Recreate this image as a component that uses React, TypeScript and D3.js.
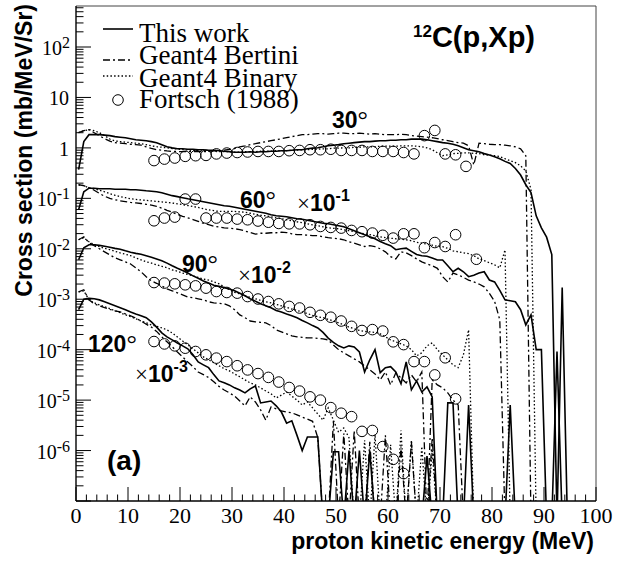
import React from 'react';
import * as d3 from 'd3';

// Bin centres (MeV) of the simulated histograms (1 MeV bins)
const binCenters = [
  0.5, 1.5, 2.5, 3.5, 4.5, 5.5, 6.5, 7.5, 8.5, 9.5, 10.5, 11.5, 12.5, 13.5, 14.5, 15.5, 16.5, 17.5, 18.5, 19.5,
  20.5, 21.5, 22.5, 23.5, 24.5, 25.5, 26.5, 27.5, 28.5, 29.5, 30.5, 31.5, 32.5, 33.5, 34.5, 35.5, 36.5, 37.5, 38.5, 39.5,
  40.5, 41.5, 42.5, 43.5, 44.5, 45.5, 46.5, 47.5, 48.5, 49.5, 50.5, 51.5, 52.5, 53.5, 54.5, 55.5, 56.5, 57.5, 58.5, 59.5,
  60.5, 61.5, 62.5, 63.5, 64.5, 65.5, 66.5, 67.5, 68.5, 69.5, 70.5, 71.5, 72.5, 73.5, 74.5, 75.5, 76.5, 77.5, 78.5, 79.5,
  80.5, 81.5, 82.5, 83.5, 84.5, 85.5, 86.5, 87.5, 88.5, 89.5, 90.5, 91.5, 92.5, 93.5, 94.5, 95.5, 96.5, 97.5, 98.5, 99.5,
];

// ---- 30 degrees (x1) ----
const thisWork30 = [
  0.37, 1.33, 1.83, 1.83, 1.83, 1.79, 1.75, 1.67, 1.63, 1.59, 1.52, 1.45, 1.42, 1.39, 1.33, 1.27, 1.16, 1.05, 1.0, 0.96,
  0.96, 0.94, 0.94, 0.92, 0.92, 0.9, 0.9, 0.88, 0.86, 0.84, 0.82, 0.82, 0.82, 0.84, 0.82, 0.84, 0.84, 0.86, 0.86, 0.88,
  0.88, 0.9, 0.92, 0.92, 0.96, 0.99, 1.01, 1.05, 1.1, 1.13, 1.16, 1.21, 1.24, 1.27, 1.3, 1.33, 1.33, 1.36, 1.39, 1.39,
  1.42, 1.42, 1.45, 1.45, 1.49, 1.49, 1.49, 1.45, 1.39, 1.33, 1.27, 1.24, 1.18, 1.1, 1.01, 0.92, 0.88, 0.84, 0.77, 0.72,
  0.67, 0.61, 0.54, 0.49, 0.39, 0.29, 0.186, 0.13, 0.045, 0.026, 0.017, 0.0077, 0, 0.0017, 0,
];
const bertini30 = [
  2.0, 2.2, 2.3, 2.0, 1.75, 1.52, 1.36, 1.27, 1.24, 1.21, 1.18, 1.16, 1.13, 1.05, 0.98, 0.92, 0.9, 0.87, 0.85, 0.85,
  0.84, 0.84, 0.84, 0.84, 0.84, 0.85, 0.87, 0.88, 0.9, 0.93, 0.97, 1.05, 1.1, 1.16, 1.21, 1.27, 1.33, 1.39, 1.45, 1.52,
  1.59, 1.67, 1.75, 1.83, 1.83, 1.87, 1.91, 1.91, 1.87, 1.91, 1.96, 1.96, 1.91, 1.91, 1.96, 1.91, 1.87, 1.91, 1.87, 1.83,
  1.83, 1.83, 1.87, 1.83, 1.75, 1.71, 1.67, 1.63, 1.59, 1.52, 1.45, 1.39, 1.33, 1.27, 1.24, 1.1, 0.46, 1.24, 1.21, 1.18,
  1.16, 1.16, 1.13, 1.1, 1.05, 0.96, 0.7, 0,
];
const binary30 = [
  2.0, 2.2, 2.3, 2.2, 2.0, 1.75, 1.5, 1.38, 1.33, 1.3, 1.27, 1.24, 1.21, 1.16, 1.1, 1.06, 1.03, 1.0, 0.97, 0.95,
  0.93, 0.91, 0.89, 0.88, 0.87, 0.86, 0.86, 0.84, 0.84, 0.84, 0.82, 0.82, 0.84, 0.84, 0.84, 0.86, 0.86, 0.86, 0.88, 0.88,
  0.88, 0.9, 0.9, 0.92, 0.92, 0.94, 0.94, 0.96, 0.96, 0.99, 0.99, 1.0, 1.0, 1.03, 1.03, 1.05, 1.05, 1.05, 1.08, 1.08,
  1.08, 1.08, 1.1, 1.1, 1.1, 1.08, 1.05, 1.0, 0.92, 0.8, 0.7, 0.73, 0.77, 0.78, 0.8, 0.8, 0.78, 0.77, 0.73, 0.72,
  0.7, 0.67, 0.61, 0.56, 0.51, 0.44, 0.35, 0.15, 0,
];
const fortschE30 = [15, 17, 19, 21, 23, 25, 27, 29, 31, 33, 35, 37, 39, 41, 43, 45, 47, 49, 51, 53, 55, 57, 59, 61, 63, 65, 67, 69, 71, 73, 75];
const fortsch30 = [
  0.56, 0.6, 0.63, 0.68, 0.7, 0.71, 0.76, 0.79, 0.81, 0.83, 0.85, 0.85, 0.85, 0.88, 0.89, 0.92, 0.92, 0.94, 0.89, 0.89,
  0.89, 0.85, 0.85, 0.85, 0.81, 0.76, 1.75, 2.22, 0.76, 0.73, 0.43,
];

// ---- 60 degrees (x1e-1) ----
const thisWork60 = [
  0.0594, 0.135, 0.159, 0.159, 0.155, 0.155, 0.155, 0.151, 0.151, 0.151, 0.148, 0.148, 0.145, 0.141, 0.138, 0.135, 0.129, 0.121, 0.113, 0.108,
  0.103, 0.098, 0.094, 0.0896, 0.0856, 0.0818, 0.0781, 0.0746, 0.0713, 0.0697, 0.0666, 0.0636, 0.0608, 0.0581, 0.0555, 0.053, 0.0506, 0.0473, 0.0451, 0.0441,
  0.0431, 0.0412, 0.0394, 0.0385, 0.0368, 0.0351, 0.0336, 0.0321, 0.0313, 0.0299, 0.0286, 0.0273, 0.0249, 0.0228, 0.0208, 0.019, 0.0173, 0.0158, 0.014, 0.0126,
  0.0115, 0.0096, 0.01, 0.0103, 0.0089, 0.0077, 0.0073, 0.0071, 0.0066, 0.006, 0.006, 0.0046, 0.0035, 0.0041, 0.0035, 0.0028, 0.003, 0.0033, 0.0035, 0.0024,
  0.0022, 0.0015, 0.00097, 0.00093, 0.00089, 0.00062, 0.00031, 0.00049, 0.0001, 0.0001, 0, 0, 0.000092, 0,
];
const bertini60 = [
  0.186, 0.178, 0.162, 0.145, 0.125, 0.11, 0.1, 0.094, 0.089, 0.086, 0.083, 0.081, 0.079, 0.076, 0.073, 0.069, 0.064, 0.058, 0.053, 0.048,
  0.044, 0.041, 0.038, 0.035, 0.032, 0.03, 0.028, 0.027, 0.026, 0.0255, 0.025, 0.024, 0.0225, 0.021, 0.0195, 0.0203, 0.0203, 0.0208, 0.0208, 0.0213,
  0.021, 0.0198, 0.019, 0.019, 0.0186, 0.0182, 0.0182, 0.0173, 0.0166, 0.0162, 0.0158, 0.0151, 0.0138, 0.0129, 0.012, 0.0111, 0.0115, 0.011, 0.01, 0.0087,
  0.007, 0.0063, 0.0087, 0.0083, 0.0073, 0.0063, 0.0055, 0.005, 0.0046, 0.0041, 0.0028, 0.0022, 0.0033, 0.00305, 0.0027, 0.0024, 0.0022, 0.002, 0.00176, 0.0013,
  0.00091, 0.00039, 0,
];
const binary60 = [
  0.186, 0.178, 0.162, 0.155, 0.145, 0.135, 0.124, 0.115, 0.108, 0.103, 0.098, 0.095, 0.093, 0.091, 0.089, 0.087, 0.085, 0.083, 0.081, 0.078,
  0.075, 0.072, 0.069, 0.066, 0.062, 0.059, 0.057, 0.055, 0.055, 0.055, 0.055, 0.054, 0.053, 0.0506, 0.0484, 0.0462, 0.0451, 0.0431, 0.0412, 0.0394,
  0.0376, 0.036, 0.0343, 0.0328, 0.0313, 0.0299, 0.0286, 0.0273, 0.026, 0.0255, 0.0249, 0.0238, 0.0228, 0.0218, 0.0208, 0.0198, 0.019, 0.0182, 0.0173, 0.0166,
  0.0162, 0.0158, 0.0155, 0.0151, 0.0144, 0.0135, 0.0129, 0.0123, 0.0118, 0.0112, 0.011, 0.0102, 0.0091, 0.0087, 0.0083, 0.008, 0.0073, 0.0063, 0.0058, 0.0053,
  0.0048, 0.0042, 0.0095, 0,
];
const fortschE60 = [15, 17, 19, 21, 23, 25, 27, 29, 31, 33, 35, 37, 39, 41, 43, 45, 47, 49, 51, 53, 55, 57, 59, 61, 63, 65, 67, 69, 71, 73, 77];
const fortsch60 = [
  0.0359, 0.0407, 0.0425, 0.0968, 0.0968, 0.0407, 0.0407, 0.0407, 0.0388, 0.0376, 0.0355, 0.0336, 0.0318, 0.0312, 0.0312, 0.0299, 0.0277, 0.0265, 0.0257, 0.0231,
  0.0218, 0.0205, 0.0185, 0.0163, 0.0198, 0.0198, 0.0105, 0.0133, 0.0111, 0.019, 0.0062,
];

// ---- 90 degrees (x1e-2) ----
const thisWork90 = [
  0.00605, 0.0105, 0.012, 0.012, 0.0117, 0.0112, 0.0107, 0.0102, 0.0098, 0.0091, 0.0085, 0.0081, 0.0078, 0.0073, 0.0068, 0.0063, 0.0058, 0.0052, 0.0046, 0.0041,
  0.0037, 0.0033, 0.0029, 0.0026, 0.0023, 0.0021, 0.0019, 0.0018, 0.0017, 0.0016, 0.00147, 0.00131, 0.00117, 0.00102, 0.00091, 0.00081, 0.00074, 0.00068, 0.0006, 0.00056,
  0.00051, 0.00047, 0.00043, 0.00038, 0.00034, 0.0003, 0.00027, 0.00022, 0.00017, 0.00014, 0.000119, 0.000108, 0.000119, 0.000113, 0.00009, 0.000036, 0.000063, 0.0001, 0.000035, 0.000044,
  0.000046, 0.000036, 0.000021, 0.000057, 0.000016, 0.000024, 0.0000145, 0.0000183, 0.0000116, 0, 0, 0.0000088, 0.0000088, 0, 0, 0.000008, 0, 0, 0, 0,
  0, 0, 0, 0.000008, 0,
];
const bertini90 = [
  0.0151, 0.0173, 0.0132, 0.0115, 0.01, 0.0087, 0.0076, 0.0066, 0.00605, 0.0055, 0.005, 0.0042, 0.0035, 0.0028, 0.0023, 0.00207, 0.00184, 0.0016, 0.00147, 0.00134,
  0.00122, 0.00111, 0.00107, 0.00102, 0.00097, 0.00089, 0.00085, 0.00083, 0.00081, 0.00074, 0.00062, 0.00049, 0.00043, 0.00037, 0.000356, 0.000348, 0.00034, 0.0003, 0.000247, 0.000225,
  0.000206, 0.000188, 0.00018, 0.000175, 0.000171, 0.000171, 0.000167, 0.000164, 0.000156, 0.000124, 0.0001, 0.0000864, 0.0000753, 0.0000657, 0.0000573, 0.0000477, 0.0000397, 0.0000331, 0.0000252, 0.0000363,
  0.00002, 0.0000347, 0.0000276, 0.0000219, 0.0000316, 0.000023, 0.0000363, 0, 0.0000252, 0.00002, 0.0000175, 0.0000139, 0.00001, 0.000008, 0,
];
const binary90 = [
  0.0151, 0.0165, 0.0138, 0.012, 0.011, 0.0102, 0.0096, 0.0089, 0.0083, 0.0078, 0.0073, 0.0066, 0.00605, 0.0055, 0.0052, 0.0048, 0.0045, 0.0042, 0.0038, 0.0036,
  0.0033, 0.0031, 0.0029, 0.0027, 0.0025, 0.0024, 0.0022, 0.00202, 0.00176, 0.00154, 0.00137, 0.00128, 0.00117, 0.00109, 0.00102, 0.00095, 0.00089, 0.00085, 0.00079, 0.00074,
  0.00069, 0.00064, 0.0006, 0.00056, 0.00052, 0.00048, 0.00045, 0.00043, 0.0004, 0.00037, 0.00034, 0.00031, 0.00028, 0.00026, 0.00024, 0.00023, 0.000225, 0.00022, 0.000206, 0.00018,
  0.000156, 0.000143, 0.00013, 0.000119, 0.0001, 0.0000753, 0.0000864, 0.000119, 0.000136, 0.0001, 0.000079, 0.000063, 0.00005, 0.000044, 0.000079, 0.000247, 0,
];
const fortschE90 = [15, 17, 19, 21, 23, 25, 27, 29, 31, 33, 35, 37, 39, 41, 43, 45, 47, 49, 51, 53, 55, 57, 59, 61, 63, 65, 67, 69, 71, 73];
const fortsch90 = [
  0.00214, 0.00209, 0.00202, 0.00193, 0.00184, 0.00166, 0.00142, 0.00136, 0.00132, 0.00113, 0.00101, 0.0009, 0.00081, 0.00072, 0.00067, 0.00055, 0.00048, 0.00044, 0.00037, 0.00029,
  0.00024, 0.00025, 0.000234, 0.000143, 0.000126, 0.000058, 0.000058, 0.0000316, 0.000069, 0.0000106,
];

// ---- 120 degrees (x1e-3) ----
const thisWork120 = [
  0.00062, 0.001, 0.00104, 0.00102, 0.00097, 0.00089, 0.00081, 0.00074, 0.00068, 0.00062, 0.00056, 0.00051, 0.00047, 0.00043, 0.000356, 0.00028, 0.000215, 0.000179, 0.000156, 0.000136,
  0.000119, 0.000104, 0.000079, 0.000057, 0.00005, 0.000044, 0.000032, 0.000024, 0.000022, 0.00002, 0.0000175, 0.0000159, 0.0000139, 0.0000167, 0.0000191, 0.0000088, 0.0000092, 0.0000096, 0.0000077, 0.0000058,
  0.0000035, 0.0000039, 0.000002, 0.000001, 0.00000186, 0.00000186, 0.00000186, 0, 0, 0.00000095, 0.00000095, 0, 0.000001, 0, 0.000001, 0, 0.000001, 0, 0, 0,
  0, 0, 0, 0, 0, 0, 0, 0.00000078, 0,
];
const bertini120 = [
  0.0014, 0.00154, 0.00097, 0.00081, 0.00074, 0.00068, 0.00063, 0.00059, 0.00056, 0.00051, 0.00047, 0.00042, 0.00037, 0.00032, 0.00028, 0.00023, 0.000179, 0.000143, 0.000114, 0.00009,
  0.000072, 0.000057, 0.000046, 0.000036, 0.000032, 0.000028, 0.000023, 0.0000187, 0.0000159, 0.0000139, 0.000012, 0.0000096, 0.0000077, 0.0000116, 0.0000092, 0.0000064, 0.000004, 0.0000073, 0.0000067, 0.0000061,
  0.0000058, 0.0000056, 0.0000051, 0.0000046, 0.0000042, 0.0000038, 0.0000018, 0, 0, 0.0000039, 0, 0.0000022, 0, 0.0000025, 0, 0, 0.0000015, 0, 0, 0.000002,
  0, 0, 0.0000012, 0, 0.0000015, 0, 0, 0, 0.0000018, 0,
];
const binary120 = [
  0.0014, 0.00147, 0.00097, 0.00085, 0.00077, 0.00071, 0.00065, 0.00059, 0.00054, 0.00049, 0.00045, 0.00041, 0.00037, 0.00034, 0.00031, 0.00029, 0.00027, 0.000247, 0.000215, 0.000179,
  0.000149, 0.000125, 0.000104, 0.0000864, 0.000072, 0.000063, 0.000055, 0.000048, 0.000042, 0.000038, 0.000033, 0.000029, 0.0000252, 0.0000219, 0.00002, 0.0000175, 0.0000152, 0.0000133, 0.000011, 0.0000126,
  0.0000145, 0.000012, 0.00001, 0.000008, 0.0000092, 0.000007, 0.0000053, 0.000004, 0.000007, 0.000004, 0.0000023, 0.0000028, 0.0000018, 0, 0, 0.0000016, 0, 0.0000021, 0, 0,
  0.0000013, 0, 0.0000025, 0, 0.0000016, 0, 0.0000012, 0, 0.000001, 0,
];
const fortschE120 = [15, 17, 19, 21, 23, 25, 27, 29, 31, 33, 35, 37, 39, 41, 43, 45, 47, 49, 51, 53, 55, 57, 59, 61, 63];
const fortsch120 = [
  0.000145, 0.00013, 0.000119, 0.000107, 0.000092, 0.000079, 0.000068, 0.000058, 0.000048, 0.0000397, 0.0000336, 0.0000282, 0.0000228, 0.0000178, 0.0000151, 0.0000116, 0.00001, 0.0000071, 0.0000055, 0.0000047,
  0.0000024, 0.0000025, 0.0000012, 0.00000067, 0.00000035,
];

const xTickValues = [0, 10, 20, 30, 40, 50, 60, 70, 80, 90, 100];
const yLabelExponents = [2, 1, 0, -1, -2, -3, -4, -5, -6];
const legendLabels = ['This work', 'Geant4 Bertini', 'Geant4 Binary', 'Fortsch (1988)'];

const W = 627;
const H = 567;
const L = 76, R = 596, T = 6, B = 501;
const SERIF = '"Liberation Serif", "Times New Roman", serif';
const SANS = '"Liberation Sans", Arial, Helvetica, sans-serif';
const BERTINI_DASH = '7,3,2,3';
const BINARY_DASH = '1.5,2.2';

export default function App() {
  const x = d3.scaleLinear().domain([0, 100]).range([L, R]);
  const y = d3.scaleLog().domain([1e-7, 650]).range([B, T]);
  const floorVal = 4e-8;

  const line = d3
    .line<number>()
    .x((_, i) => x(binCenters[i]))
    .y((d) => y(d > 0 ? d : floorVal));

  const simSeries = [
    { data: thisWork30, dash: undefined, w: 1.6 },
    { data: bertini30, dash: BERTINI_DASH, w: 1.3 },
    { data: binary30, dash: BINARY_DASH, w: 1.3 },
    { data: thisWork60, dash: undefined, w: 1.6 },
    { data: bertini60, dash: BERTINI_DASH, w: 1.3 },
    { data: binary60, dash: BINARY_DASH, w: 1.3 },
    { data: thisWork90, dash: undefined, w: 1.6 },
    { data: bertini90, dash: BERTINI_DASH, w: 1.3 },
    { data: binary90, dash: BINARY_DASH, w: 1.3 },
    { data: thisWork120, dash: undefined, w: 1.6 },
    { data: bertini120, dash: BERTINI_DASH, w: 1.3 },
    { data: binary120, dash: BINARY_DASH, w: 1.3 },
  ];
  const expSets = [
    { e: fortschE30, v: fortsch30 },
    { e: fortschE60, v: fortsch60 },
    { e: fortschE90, v: fortsch90 },
    { e: fortschE120, v: fortsch120 },
  ];

  // ticks
  const xMinor = d3.range(0, 101, 2).filter((v) => v % 10 !== 0);
  const yMajor: number[] = [];
  const yMinor: number[] = [];
  for (let k = -7; k <= 2; k++) {
    yMajor.push(Math.pow(10, k));
    for (let m = 2; m <= 9; m++) {
      const v = m * Math.pow(10, k);
      if (v <= 650) yMinor.push(v);
    }
  }

  const yLabel = (e: number) => {
    const yy = y(Math.pow(10, e)) + 8;
    if (e === 0) return <text key={e} x={69} y={yy} textAnchor="end" fontFamily={SERIF} fontSize={20}>1</text>;
    if (e === 1) return <text key={e} x={69} y={yy} textAnchor="end" fontFamily={SERIF} fontSize={20}>10</text>;
    return (
      <text key={e} x={70} y={yy} textAnchor="end" fontFamily={SERIF} fontSize={20}>
        10<tspan fontSize={16} dy={-7}>{String(e)}</tspan>
      </text>
    );
  };

  const annot = (label: string, px: number, py: number) => (
    <text x={px} y={py} fontFamily={SANS} fontWeight="bold" fontSize={23}>
      {label}
      <tspan fontFamily={SERIF} fontWeight="normal" fontSize={26}>°</tspan>
    </text>
  );
  const factor = (exp: string, px: number, py: number) => (
    <text x={px} y={py} fontFamily={SANS} fontWeight="bold" fontSize={23}>
      <tspan fontFamily={SERIF} fontWeight="normal" fontSize={23}>×</tspan>
      10<tspan fontSize={16} dy={-10}>{exp}</tspan>
    </text>
  );

  const legendRows = [
    { label: legendLabels[0], ly: 29, ty: 42, kind: 'solid' },
    { label: legendLabels[1], ly: 60, ty: 64, kind: 'bertini' },
    { label: legendLabels[2], ly: 76, ty: 87, kind: 'binary' },
    { label: legendLabels[3], ly: 100, ty: 108, kind: 'marker' },
  ];

  return (
    <svg
      width={W}
      height={H}
      viewBox={`0 0 ${W} ${H}`}
      style={{ display: 'block', background: '#fff', position: 'absolute', left: 0, top: 0 }}
    >
      <defs>
        <clipPath id="frame">
          <rect x={L} y={T} width={R - L} height={B - T} />
        </clipPath>
      </defs>
      <rect x={0} y={0} width={W} height={H} fill="#fff" />

      <g clipPath="url(#frame)">
        {simSeries.map((s, i) => (
          <path
            key={i}
            d={line(s.data) || ''}
            fill="none"
            stroke="#000"
            strokeWidth={s.w}
            strokeDasharray={s.dash}
            strokeLinejoin="miter"
          />
        ))}
        {expSets.map((s, i) =>
          s.v.map((v, j) => (
            <circle key={`${i}-${j}`} cx={x(s.e[j])} cy={y(v)} r={5.3} fill="none" stroke="#000" strokeWidth={1} />
          ))
        )}
      </g>

      {/* frame */}
      <line x1={L} y1={T} x2={R} y2={T} stroke="#444" strokeWidth={1} />
      <line x1={R} y1={T} x2={R} y2={B} stroke="#444" strokeWidth={1} />
      <line x1={L} y1={T} x2={L} y2={B} stroke="#000" strokeWidth={1.4} />
      <line x1={L} y1={B} x2={R} y2={B} stroke="#000" strokeWidth={1.4} />

      {/* x ticks */}
      {xTickValues.map((v) => (
        <line key={`xm${v}`} x1={x(v)} x2={x(v)} y1={B} y2={B - 14} stroke="#000" strokeWidth={1} />
      ))}
      {xMinor.map((v) => (
        <line key={`xn${v}`} x1={x(v)} x2={x(v)} y1={B} y2={B - 6.5} stroke="#000" strokeWidth={1} />
      ))}
      {xTickValues.map((v) => (
        <text key={`xl${v}`} x={x(v)} y={523} textAnchor="middle" fontFamily={SERIF} fontSize={22}>
          {v}
        </text>
      ))}

      {/* y ticks */}
      {yMajor.map((v, i) => (
        <line key={`ym${i}`} x1={L} x2={L + 15} y1={y(v)} y2={y(v)} stroke="#000" strokeWidth={1} />
      ))}
      {yMinor.map((v, i) => (
        <line key={`yn${i}`} x1={L} x2={L + 7.5} y1={y(v)} y2={y(v)} stroke="#000" strokeWidth={1} />
      ))}
      {yLabelExponents.map((e) => yLabel(e))}

      {/* axis titles */}
      <text x={594} y={549} textAnchor="end" fontFamily={SANS} fontWeight="bold" fontSize={23}>
        proton kinetic energy (MeV)
      </text>
      <text transform="translate(32,4) rotate(-90)" textAnchor="end" fontFamily={SANS} fontWeight="bold" fontSize={23}>
        Cross section (mb/MeV/Sr)
      </text>

      {/* reaction title */}
      <text x={413} y={47} fontFamily={SANS} fontWeight="bold" fontSize={29}>
        <tspan fontSize={17} dy={-10}>12</tspan>
        <tspan dy={10}>C(p,Xp)</tspan>
      </text>

      {/* angle annotations */}
      {annot('30', 332, 128)}
      {annot('60', 240, 208)}
      {factor('-1', 297, 211)}
      {annot('90', 182, 272)}
      {factor('-2', 238, 283)}
      {annot('120', 88, 352)}
      {factor('-3', 135, 382)}
      <text x={107} y={470} fontFamily={SANS} fontWeight="bold" fontSize={28}>(a)</text>

      {/* legend */}
      {legendRows.map((r) => (
        <g key={r.label}>
          {r.kind === 'marker' ? (
            <circle cx={118} cy={r.ly} r={5.3} fill="none" stroke="#000" strokeWidth={1} />
          ) : (
            <line
              x1={103}
              x2={133}
              y1={r.ly}
              y2={r.ly}
              stroke="#000"
              strokeWidth={r.kind === 'solid' ? 1.6 : 1.3}
              strokeDasharray={r.kind === 'bertini' ? BERTINI_DASH : r.kind === 'binary' ? BINARY_DASH : undefined}
            />
          )}
          <text x={139} y={r.ty} fontFamily={SERIF} fontSize={27}>
            {r.label}
          </text>
        </g>
      ))}
    </svg>
  );
}
